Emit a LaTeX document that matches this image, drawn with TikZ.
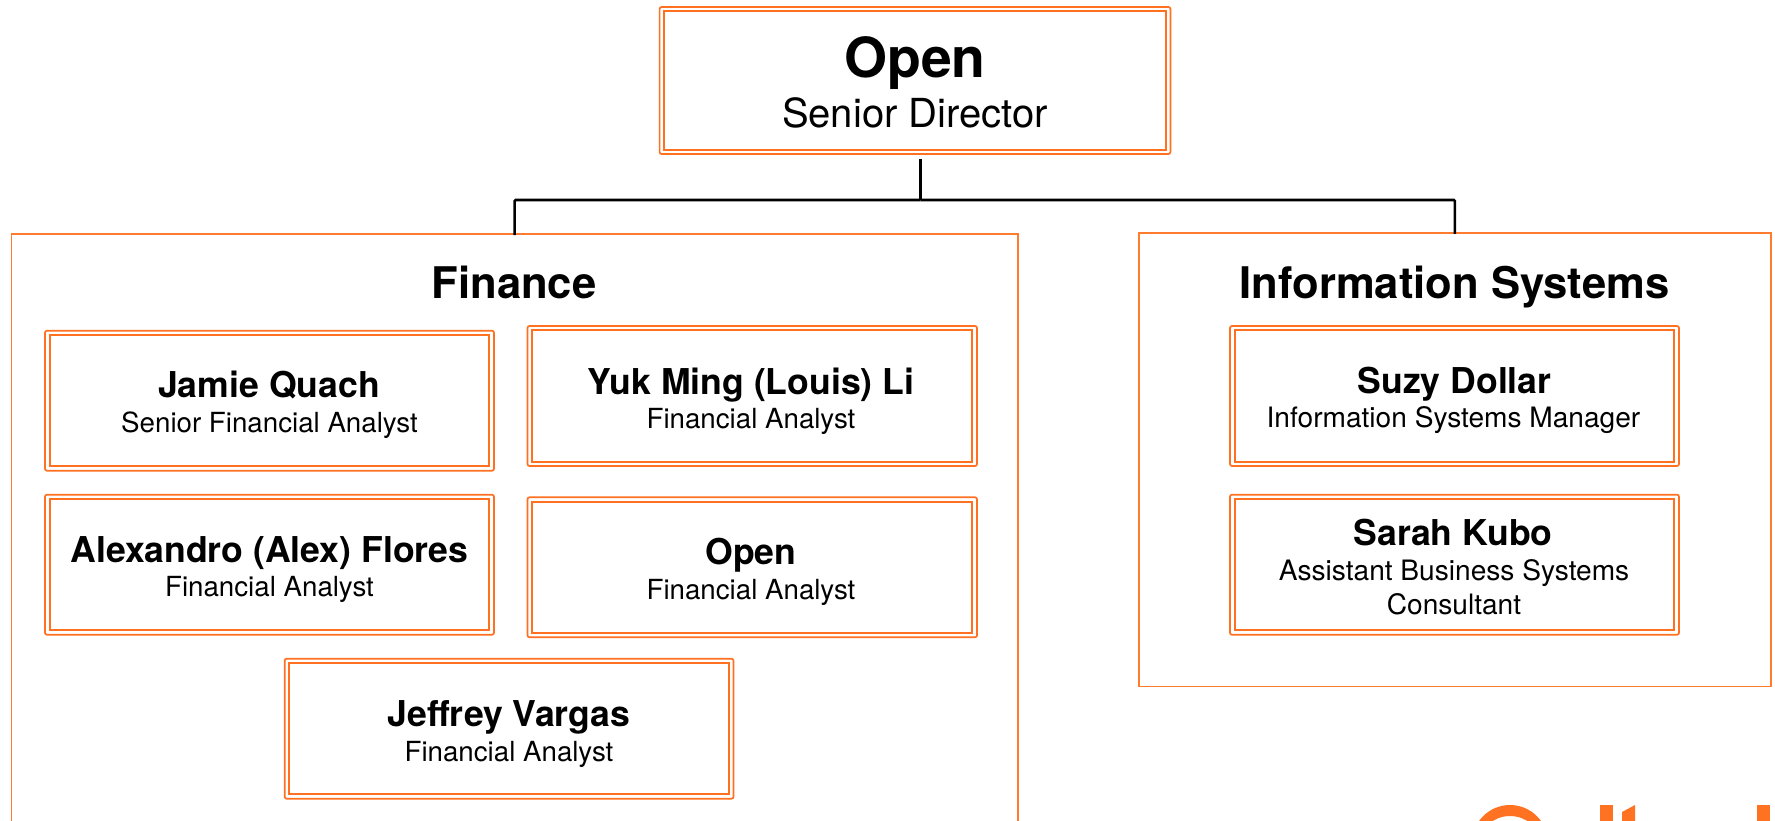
\documentclass[tikz,border=0pt]{standalone}
\usepackage{fontspec}
\setmainfont{TeX Gyre Heros}
\definecolor{cardorange}{HTML}{FF7020}
\definecolor{frameorange}{HTML}{FF7C2E}
\definecolor{logoorange}{HTML}{FF7222}
\tikzset{
  outerbox/.style={draw=cardorange,line width=1.7pt,rounded corners=2pt,inner sep=0,outer sep=0,fill=white},
  innerbox/.style={draw=cardorange,line width=2.1pt},
  frame/.style={draw=frameorange,line width=1.6pt,inner sep=0,outer sep=0},
  connector/.style={draw=black,line width=2.6pt,rounded corners=1pt},
  txt/.style={anchor=base,inner sep=0,outer sep=0,text=black},
  bigname/.style={txt,font=\bfseries\fontsize{55.3}{55.3}\selectfont},
  bigrole/.style={txt,font=\fontsize{40}{40}\selectfont},
  section/.style={txt,font=\bfseries\fontsize{43.6}{43.6}\selectfont},
  pname/.style={txt,font=\bfseries\fontsize{35.6}{35.6}\selectfont},
  prole/.style={txt,font=\fontsize{27.7}{27.7}\selectfont},
  widerole/.style={txt,font=\fontsize{28.1}{28.1}\selectfont},
}
% \cardbox{name}{x1}{y1}{x2}{y2}
\newcommand{\cardbox}[5]{%
  \node[outerbox,minimum width=#4pt-#2pt,minimum height=#5pt-#3pt] (#1) at ({(#2+#4)/2},{(#3+#5)/2}) {};
  \draw[innerbox] ([shift={(4.6,4.4)}]#1.north west) rectangle ([shift={(-4.6,-4.4)}]#1.south east);
}
\begin{document}
\begin{tikzpicture}[x=1pt,y=-1pt]
\useasboundingbox (0,0) rectangle (1775,820);
\clip (0,0) rectangle (1775,820);
\fill[white] (0,0) rectangle (1775,820);
% section frames
\node[frame,minimum width=1006.7pt,minimum height=640pt] (finance) at (514.65,554) {};
\node[frame,minimum width=632.2pt,minimum height=453.5pt] (infosys) at (1454.9,459.7) {};
% cards
\cardbox{top}{659.6}{7}{1170.4}{154}
\cardbox{jamie}{45}{330.7}{494}{470.7}
\cardbox{alex}{45}{494.7}{494}{634.7}
\cardbox{jeffrey}{284.7}{658.7}{733.5}{798.7}
\cardbox{yuk}{527.5}{326}{977}{466}
\cardbox{open}{527.5}{497.3}{977}{637.3}
\cardbox{suzy}{1230}{326}{1679}{466}
\cardbox{sarah}{1230}{494.7}{1679}{634.7}
% connectors
\coordinate (hub) at (920.4,200);
\draw[connector] ([shift={(5.4,5)}]top.south) -- (hub);
\draw[connector] ([yshift=-1pt]finance.north) |- (hub);
\draw[connector] ([yshift=-1pt]infosys.north) |- (hub);
% texts
\node[bigname] (tname) at (915,77.3) {Open};
\node[bigrole] (trole) at (915,127.7) {Senior Director};
\node[section] (fin) at (514,298.5) {Finance};
\node[section] (inf) at (1454.5,298.7) {Information Systems};
\node[pname] (jn) at (269,397.8) {Jamie Quach};
\node[prole] (jr) at (269.5,432.3) {Senior Financial Analyst};
\node[pname] (an) at (269.5,562.5) {Alexandro (Alex) Flores};
\node[prole] (ar) at (269.5,596) {Financial Analyst};
\node[pname] (vn) at (509,726.5) {Jeffrey Vargas};
\node[prole] (vr) at (509,761) {Financial Analyst};
\node[pname] (yn) at (751,394.8) {Yuk Ming (Louis) Li};
\node[prole] (yr) at (751,428.3) {Financial Analyst};
\node[pname] (on) at (751,564.8) {Open};
\node[prole] (or) at (751,599) {Financial Analyst};
\node[pname] (sn) at (1454.5,393.8) {Suzy Dollar};
\node[widerole] (sr) at (1453.5,427.5) {Information Systems Manager};
\node[pname] (kn) at (1453,545.5) {Sarah Kubo};
\node[widerole] (kr) at (1454,580) {Assistant Business Systems};
\node[widerole] (kc) at (1454,614) {Consultant};
% cropped logo at the bottom edge
\fill[logoorange,even odd rule] (1510,843) ellipse [x radius=38,y radius=38] (1510,843) ellipse [x radius=30,y radius=27];
\fill[logoorange] (1600,805) rectangle (1613,821);
\fill[logoorange] (1622,821) -- (1622,812) -- (1635,805) -- (1635,821) -- cycle;
\fill[logoorange] (1757,805) rectangle (1769.5,821);
\end{tikzpicture}
\end{document}
